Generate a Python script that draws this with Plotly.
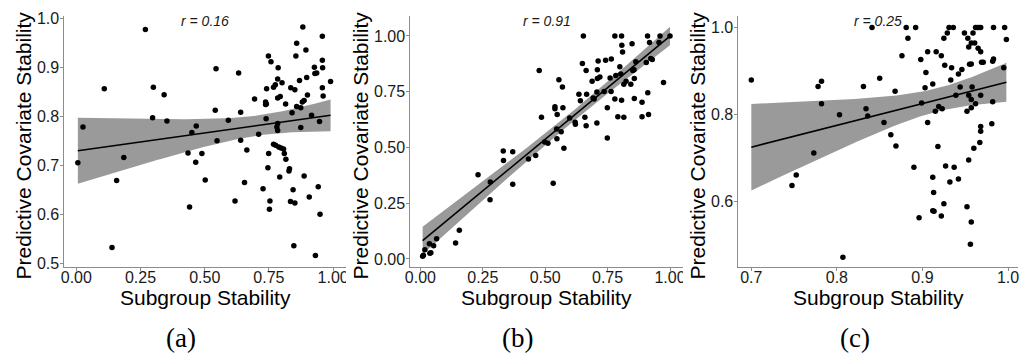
import numpy as np
import plotly.graph_objects as go

# ---------------- data ----------------
a_x = [0.006,0.026,0.109,0.269,0.300,0.297,0.342,0.353,0.185,0.157,
       0.139,0.435,0.441,0.450,0.467,0.465,0.489,0.502,0.541,0.544,
       0.548,0.592,0.618,0.632,0.640,0.640,0.655,0.664,0.694,0.710,
       0.727,0.748,0.758,0.786,0.741,0.768,0.775,0.784,0.801,0.737,
       0.740,0.737,0.794,0.784,0.815,0.835,0.851,0.869,0.897,0.927,
       0.929,0.936,0.958,0.959,0.990,0.958,0.961,0.900,0.887,0.880,
       0.858,0.874,0.840,0.916,0.947,0.739,0.874,0.784,0.781,0.784,
       0.858,0.894,0.855,0.882,0.958,0.768,0.776,0.788,0.797,0.807,
       0.810,0.749,0.816,0.830,0.828,0.746,0.792,0.887,0.844,0.942,
       0.754,0.752,0.834,0.851,0.907,0.949,0.847,0.931]
a_y = [0.705,0.778,0.856,0.977,0.859,0.797,0.844,0.790,0.716,0.669,
       0.532,0.725,0.615,0.767,0.780,0.706,0.724,0.670,0.812,0.897,
       0.750,0.792,0.627,0.888,0.808,0.751,0.665,0.731,0.835,0.763,
       0.652,0.923,0.911,0.899,0.856,0.859,0.864,0.876,0.868,0.829,
       0.825,0.824,0.840,0.837,0.825,0.858,0.854,0.873,0.879,0.900,
       0.887,0.888,0.914,0.899,0.871,0.858,0.841,0.843,0.832,0.829,
       0.820,0.817,0.807,0.802,0.789,0.795,0.777,0.785,0.778,0.771,
       0.949,0.935,0.923,0.982,0.963,0.743,0.741,0.737,0.735,0.733,
       0.724,0.724,0.712,0.693,0.688,0.695,0.676,0.678,0.650,0.656,
       0.627,0.610,0.626,0.623,0.635,0.600,0.536,0.516]

b_x = [0.009,0.012,0.018,0.036,0.038,0.042,0.053,0.065,0.141,0.156,
       0.231,0.280,0.279,0.332,0.333,0.370,0.370,0.433,0.462,0.476,
       0.485,0.498,0.511,0.532,0.539,0.539,0.546,0.547,0.548,0.555,
       0.564,0.569,0.571,0.575,0.598,0.620,0.621,0.653,0.635,0.641,
       0.649,0.659,0.664,0.666,0.664,0.688,0.692,0.696,0.707,0.707,
       0.709,0.712,0.709,0.719,0.742,0.736,0.749,0.749,0.760,0.764,
       0.765,0.779,0.779,0.783,0.791,0.799,0.806,0.807,0.810,0.803,
       0.806,0.815,0.815,0.824,0.843,0.848,0.851,0.856,0.857,0.857,
       0.863,0.888,0.888,0.905,0.910,0.911,0.914,0.918,0.923,0.929,
       0.956,0.960,0.974,1.000]
b_y = [0.012,0.016,0.041,0.068,0.025,0.028,0.059,0.091,0.071,0.129,
       0.378,0.345,0.265,0.484,0.442,0.481,0.335,0.448,0.464,0.845,
       0.636,0.525,0.519,0.339,0.683,0.674,0.583,0.539,0.648,0.804,
       0.570,0.771,0.678,0.496,0.632,0.613,0.604,1.000,0.739,0.710,
       0.877,0.636,0.845,0.739,0.597,0.797,0.722,0.717,0.749,0.610,
       0.849,0.888,0.809,0.816,0.891,0.751,0.678,0.542,0.812,0.751,
       0.897,1.000,0.717,0.823,0.638,0.862,1.000,0.958,0.928,0.830,
       0.712,0.635,0.783,0.797,0.783,0.965,0.845,0.849,0.809,0.720,
       0.884,0.703,0.638,0.881,1.000,0.745,0.648,0.971,0.899,0.894,
       0.971,1.000,0.791,1.000]

c_x = [0.700,0.7475,0.7525,0.773,0.778,0.782,0.782,0.803,0.807,0.831,
       0.834,0.836,0.841,0.850,0.855,0.863,0.868,0.869,0.876,0.881,
       0.883,0.890,0.892,0.896,0.898,0.899,0.903,0.904,0.906,0.906,
       0.912,0.912,0.913,0.912,0.9135,0.915,0.916,0.918,0.919,0.922,
       0.922,0.923,0.925,0.925,0.926,0.927,0.929,0.931,0.936,0.932,
       0.933,0.934,0.937,0.939,0.942,0.942,0.944,0.946,0.949,0.952,
       0.952,0.953,0.954,0.957,0.954,0.954,0.955,0.957,0.957,0.957,
       0.957,0.956,0.959,0.958,0.960,0.961,0.962,0.964,0.966,0.968,
       0.962,0.965,0.968,0.968,0.968,0.968,0.967,0.969,0.971,0.982,
       0.983,0.982,0.981,0.983,0.996,0.995,0.998]
c_y = [0.879,0.636,0.660,0.711,0.864,0.876,0.824,0.799,0.471,0.864,
       0.813,0.796,1.000,0.883,0.781,0.753,0.853,0.727,0.935,1.000,
       0.975,0.678,1.000,0.562,0.926,0.826,0.861,0.896,0.781,0.944,
       0.870,0.655,0.620,0.578,0.577,0.807,0.944,0.726,0.818,0.935,
       0.566,0.813,0.594,0.975,0.913,0.681,0.987,1.000,1.000,0.644,
       0.879,0.907,0.678,0.844,0.651,0.893,0.863,0.903,0.987,0.807,
       0.587,0.975,0.955,0.964,0.695,0.844,0.915,0.916,0.815,0.834,
       0.552,0.501,0.987,0.863,0.722,0.964,1.000,1.000,1.000,1.000,
       0.824,0.952,0.944,0.844,0.761,0.772,0.735,0.920,0.920,0.922,
       0.927,0.829,0.778,1.000,1.000,0.907,0.972]

r_labels = ["r = 0.16", "r = 0.91", "r = 0.25"]
captions = ["(a)", "(b)", "(c)"]
x_title = "Subgroup Stability"
y_title = "Predictive Covariate Stability"

a_xticks = [0.0, 0.25, 0.5, 0.75, 1.0]
a_xlabels = ["0.00", "0.25", "0.50", "0.75", "1.00"]
a_yticks = [0.5, 0.6, 0.7, 0.8, 0.9, 1.0]
a_ylabels = ["0.5", "0.6", "0.7", "0.8", "0.9", "1.0"]
b_xticks = [0.0, 0.25, 0.5, 0.75, 1.0]
b_xlabels = ["0.00", "0.25", "0.50", "0.75", "1.00"]
b_yticks = [0.0, 0.25, 0.5, 0.75, 1.0]
b_ylabels = ["0.00", "0.25", "0.50", "0.75", "1.00"]
c_xticks = [0.7, 0.8, 0.9, 1.0]
c_xlabels = ["0.7", "0.8", "0.9", "1.0"]
c_yticks = [0.6, 0.8, 1.0]
c_ylabels = ["0.6", "0.8", "1.0"]

# ---------------- helpers ----------------
W, H = 1021, 358
def px(p):
    return p / W
def py(p):
    return 1 - p / H

T975 = 1.985  # t quantile for 95% CI (df ~ 95)

def ols_band(x, y, npts=80):
    x = np.asarray(x, float); y = np.asarray(y, float)
    n = len(x)
    xm, ym = x.mean(), y.mean()
    sxx = ((x - xm) ** 2).sum()
    b = ((x - xm) * (y - ym)).sum() / sxx
    a = ym - b * xm
    res = y - (a + b * x)
    s = np.sqrt((res ** 2).sum() / (n - 2))
    xs = np.linspace(x.min(), x.max(), npts)
    fit = a + b * xs
    se = s * np.sqrt(1.0 / n + (xs - xm) ** 2 / sxx)
    return xs, fit, fit - T975 * se, fit + T975 * se

panels = [
    dict(x=a_x, y=a_y, xd=(59, 343), xr=(-0.046, 1.05), yr=(0.493, 1.005),
         xt=a_xticks, xl=a_xlabels, yt=a_yticks, yl=a_ylabels,
         ytx=18, cap_x=177),
    dict(x=b_x, y=b_y, xd=(408, 683), xr=(-0.040, 1.052), yr=(-0.035, 1.091),
         xt=b_xticks, xl=b_xlabels, yt=b_yticks, yl=b_ylabels,
         ytx=358, cap_x=516),
    dict(x=c_x, y=c_y, xd=(739, 1021), xr=(0.685, 1.0116), yr=(0.449, 1.027),
         xt=c_xticks, xl=c_xlabels, yt=c_yticks, yl=c_ylabels,
         ytx=698, cap_x=857),
]

AX_COL = "#8c8c8c"
FONT = "Liberation Sans"

fig = go.Figure()
layout = dict(width=W, height=H, margin=dict(l=0, r=0, t=0, b=0),
              paper_bgcolor="white", plot_bgcolor="white", showlegend=False,
              annotations=[], shapes=[])

for i, p in enumerate(panels):
    k = "" if i == 0 else str(i + 1)
    xa, ya = "x" + k, "y" + k
    xs, fit, lo, hi = ols_band(p["x"], p["y"])
    fig.add_trace(go.Scatter(
        x=np.concatenate([xs, xs[::-1]]), y=np.concatenate([hi, lo[::-1]]),
        fill="toself", fillcolor="#9a9a9a", line=dict(width=0),
        mode="lines", hoverinfo="skip", xaxis=xa, yaxis=ya))
    fig.add_trace(go.Scatter(x=xs, y=fit, mode="lines",
                             line=dict(color="black", width=1.6),
                             xaxis=xa, yaxis=ya))
    fig.add_trace(go.Scatter(x=p["x"], y=p["y"], mode="markers",
                             marker=dict(color="black", size=5.5),
                             xaxis=xa, yaxis=ya))
    common = dict(showline=True, linecolor=AX_COL, linewidth=1.1,
                  ticks="outside", ticklen=3, tickwidth=1, tickcolor=AX_COL,
                  showgrid=False, zeroline=False,
                  tickfont=dict(family=FONT, size=16, color="#1a1a1a"))
    layout["xaxis" + k] = dict(common, domain=[px(p["xd"][0]), px(p["xd"][1])],
                               range=list(p["xr"]), anchor=ya,
                               tickvals=p["xt"], ticktext=p["xl"],
                               ticklabelstandoff=-7)
    layout["yaxis" + k] = dict(common, domain=[py(269), py(10)],
                               range=list(p["yr"]), anchor=xa,
                               tickvals=p["yt"], ticktext=p["yl"],
                               ticklabelstandoff=-2)
    cx = (p["xd"][0] + p["xd"][1]) / 2
    layout["annotations"] += [
        dict(text="<i>" + r_labels[i] + "</i>", x=px(cx), y=py(15),
             xref="paper", yref="paper",
             showarrow=False, xanchor="center", yanchor="middle",
             font=dict(family=FONT, size=14, color="#1a1a1a")),
        dict(text=x_title, x=px(cx), y=py(301), xref="paper", yref="paper",
             showarrow=False, xanchor="center", yanchor="middle",
             font=dict(family=FONT, size=21, color="black")),
        dict(text=y_title, x=px(p["ytx"]), y=py(144), xref="paper", yref="paper",
             showarrow=False, xanchor="center", yanchor="middle", textangle=-90,
             font=dict(family=FONT, size=21, color="black")),
        dict(text=captions[i], x=px(p["cap_x"]), y=py(343), xref="paper",
             yref="paper", showarrow=False, xanchor="center", yanchor="middle",
             font=dict(family="Liberation Serif", size=27, color="black")),
    ]

# the source panels were cropped at their right edges
for x0, x1 in [(343, 352), (683, 689)]:
    layout["shapes"].append(dict(type="rect", xref="paper", yref="paper",
                                 x0=px(x0), x1=px(x1), y0=py(292), y1=py(270),
                                 fillcolor="white", line=dict(width=0),
                                 layer="above"))

fig.update_layout(**layout)
fig.write_html("out.html")
